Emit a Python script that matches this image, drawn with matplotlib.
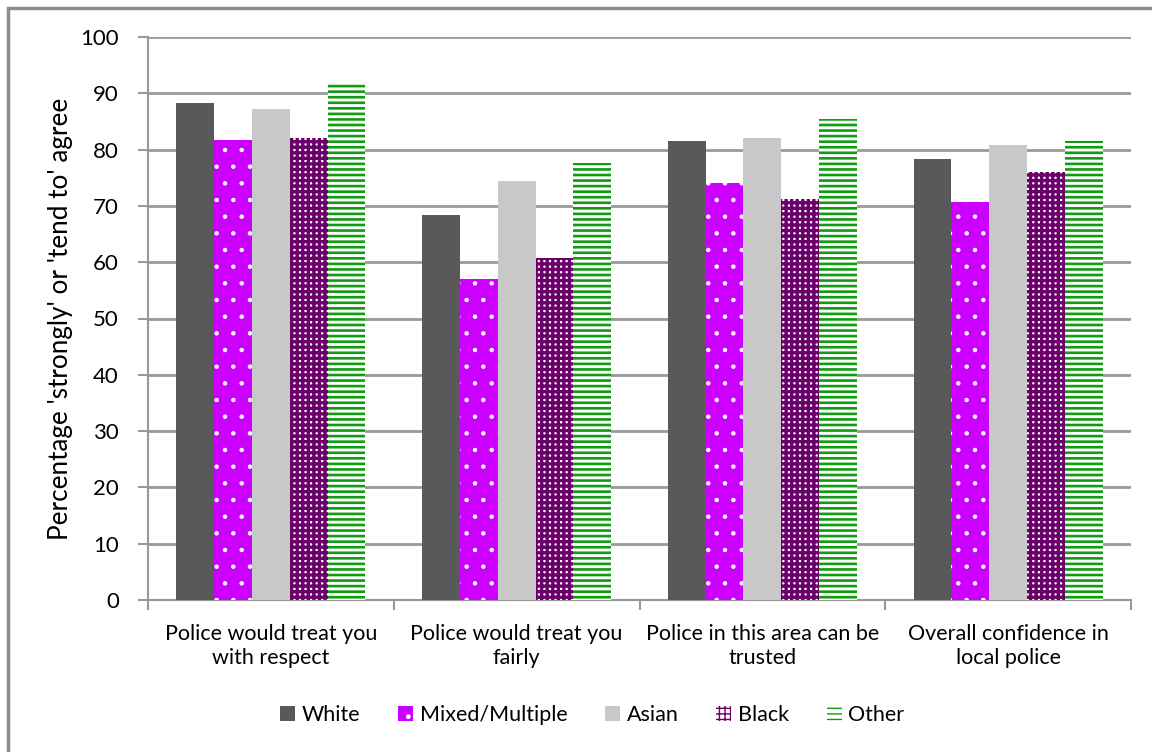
import matplotlib.pyplot as plt
import numpy as np
from matplotlib.patches import Rectangle

categories = ['Police would treat you\nwith respect', 'Police would treat you\nfairly',
              'Police in this area can be\ntrusted', 'Overall confidence in\nlocal police']
groups = ['White', 'Mixed/Multiple', 'Asian', 'Black', 'Other']
white = [88.2, 68.3, 81.6, 78.3]
mixed = [81.7, 57.0, 74.0, 70.7]
asian = [87.3, 74.5, 82.1, 80.8]
black = [82.1, 60.7, 71.2, 76.0]
other = [91.7, 77.6, 85.4, 81.5]

plt.rcParams['font.family'] = ['Lato', 'DejaVu Sans']

fig = plt.figure(figsize=(11.52, 7.52), dpi=100)
ax = fig.add_axes([148 / 1152, 1 - 600 / 752, (1131 - 148) / 1152, (600 - 37) / 752])

# cadre gris autour de la figure
fig.patches.append(Rectangle((8 / 1152, -0.05), 1.1, 1 - 8 / 752 + 0.05, transform=fig.transFigure,
                             fill=False, edgecolor='#8c8c8c', linewidth=2.5, zorder=0))

x = np.arange(len(categories))
w = 0.154
series = [white, mixed, asian, black, other]
styles = [
    dict(color='#595959', edgecolor='#595959', hatch=None, hlw=1.0),
    dict(color='#cc00ff', edgecolor='white', hatch='.', hlw=0.8),
    dict(color='#c8c8c8', edgecolor='#c8c8c8', hatch=None, hlw=1.0),
    dict(color='white', edgecolor='#6b006b', hatch='+++', hlw=2.4),
    dict(color='white', edgecolor='#109c10', hatch='---', hlw=1.9),
]
for i, (vals, st) in enumerate(zip(series, styles)):
    with plt.rc_context({'hatch.linewidth': st['hlw']}):
        bars = ax.bar(x + (i - 2) * w, vals, w, label=groups[i], color=st['color'],
                      edgecolor=st['edgecolor'], hatch=st['hatch'], linewidth=0, zorder=3)
    for b in bars:
        if hasattr(b, 'set_hatch_linewidth'):
            b.set_hatch_linewidth(st['hlw'])

ax.set_xlim(-0.5, len(categories) - 0.5)
ax.set_ylim(0, 100)
ax.set_yticks(range(0, 101, 10))
ax.grid(axis='y', color='#999999', linewidth=2, zorder=0)
ax.set_axisbelow(True)

for s in ['top', 'right']:
    ax.spines[s].set_visible(False)
for s in ['left', 'bottom']:
    ax.spines[s].set_color('#999999')
    ax.spines[s].set_linewidth(1.5)

ax.set_xticks(x)
ax.set_xticklabels(categories, fontsize=15.5, linespacing=1.25)
ax.set_xticks(np.arange(-0.5, len(categories)), minor=True)
ax.tick_params(axis='x', which='major', length=0, pad=17)
ax.tick_params(axis='x', which='minor', length=7, width=1.5, color='#999999')
ax.tick_params(axis='y', length=7, width=1.5, color='#999999', labelsize=16, pad=14)
ax.set_ylabel("Percentage 'strongly' or 'tend to' agree", fontsize=18.8, labelpad=5)

ax.legend(loc='center', bbox_to_anchor=(0.452, -0.205), ncol=5, frameon=False,
          fontsize=15.5, handlelength=0.7, handleheight=0.7, handletextpad=0.3, columnspacing=1.75)

fig.savefig('out.png', dpi=100)
